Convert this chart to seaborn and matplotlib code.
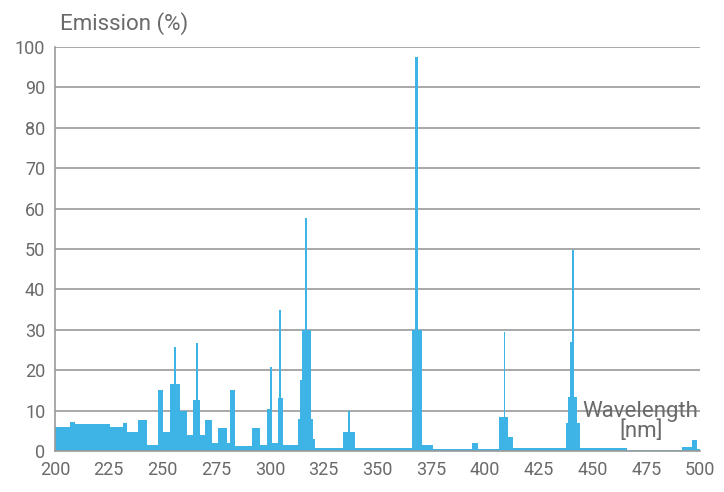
import numpy as np
import matplotlib
matplotlib.use("Agg")
import matplotlib.pyplot as plt
import seaborn as sns

# Continuum of the lamp spectrum: contiguous wavelength bands (nm) and emission (%)
base_edges = [200, 207, 209.3, 213, 225.6, 231.6, 233.5, 238.6, 242.8, 248, 250.3,
              253.5, 258, 261.4, 264, 267.4, 269.8, 273, 275.8, 280, 281.4, 283.7,
              291.6, 295.3, 298.6, 301, 303.7, 306, 313, 314, 315, 319, 320, 321,
              334, 339.5, 366, 370.7, 375.8, 394, 396.7, 406.5, 410.7, 413, 437.7,
              438.6, 442.8, 444.2, 466, 491.6, 496, 498.6, 500]
base_pct = [6.0, 7.3, 6.8, 6.7, 6.0, 7.0, 4.8, 7.7, 1.5, 15.0, 4.7,
            16.5, 10.0, 4.0, 12.6, 4.0, 7.7, 2.0, 5.7, 2.0, 15.0, 1.2,
            5.7, 1.5, 10.5, 2.0, 13.0, 1.5, 8.0, 17.6, 30.0, 8.0, 3.0, 0.8,
            4.7, 0.8, 30.0, 1.5, 0.4, 2.0, 0.5, 8.4, 3.5, 0.7, 7.0,
            13.4, 7.0, 0.8, 0.3, 1.0, 2.7, 0.5]

# Sharp emission lines: band start, band end (nm) and peak emission (%)
line_lo = [255.5, 265.6, 300.2, 304.3, 316.2, 336.4, 367.2, 408.6, 439.7, 440.5]
line_hi = [256.2, 266.3, 300.9, 305.0, 317.1, 337.1, 368.9, 409.4, 440.5, 441.3]
line_pct = [25.7, 26.7, 20.8, 35.0, 57.7, 10.0, 97.5, 29.5, 27.0, 49.8]

y_ticks = list(range(0, 101, 10))
x_ticks = list(range(200, 501, 25))

fill = "#3db4e5"
grey_text = "#6a6a6a"
grid_grey = "#9a9a9a"

sns.set_theme(style="white")
plt.rcParams["font.family"] = ["Roboto", "DejaVu Sans"]

fig = plt.figure(figsize=(7.24, 4.92), dpi=100)
ax = fig.add_axes([0.076, 0.0833, 0.891, 0.8212])

# Continuum as weighted histogram over the band edges
base_mid = [(a + b) / 2 for a, b in zip(base_edges[:-1], base_edges[1:])]
sns.histplot(x=base_mid, weights=base_pct, bins=base_edges, stat="count",
             element="bars", fill=True, color=fill, alpha=1, linewidth=0, ax=ax)

# Emission lines on top, gaps between them carry zero weight
line_edges = sorted(set(line_lo) | set(line_hi))
line_mid = [(a + b) / 2 for a, b in zip(line_lo, line_hi)]
sns.histplot(x=line_mid, weights=line_pct, bins=line_edges, stat="count",
             element="bars", fill=True, color=fill, alpha=1, linewidth=0, ax=ax)

ax.set_xlim(200, 500)
ax.set_ylim(0, 100)
ax.set_xticks(x_ticks)
ax.set_yticks(y_ticks)
ax.set_xticklabels([str(t) for t in x_ticks])
ax.set_yticklabels([str(t) for t in y_ticks])
ax.set_xlabel("")
ax.set_ylabel("")

ax.set_axisbelow(True)
ax.yaxis.grid(True, color=grid_grey, linewidth=1.2)
ax.xaxis.grid(False)
for side in ("top", "right"):
    ax.spines[side].set_visible(False)
for side in ("left", "bottom"):
    ax.spines[side].set_color(grid_grey)
    ax.spines[side].set_linewidth(1.2)

ax.tick_params(axis="both", which="major", direction="out", length=4, width=1,
               color=grid_grey, labelcolor=grey_text, labelsize=13, pad=3)

fig.text(0.083, 0.953, "Emission (%)", ha="left", va="center",
         fontsize=16, color=grey_text)
ax.text(0.908, 0.074, "Wavelength\n[nm]", transform=ax.transAxes, ha="center",
        va="center", fontsize=16, color=grey_text, linespacing=0.9)

fig.savefig("out.png", dpi=100)
